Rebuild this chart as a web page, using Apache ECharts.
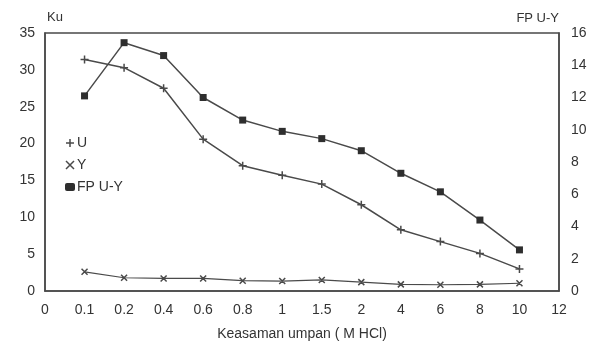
<!DOCTYPE html>
<html>
<head>
<meta charset="utf-8">
<script src="https://cdn.jsdelivr.net/npm/echarts@6/dist/echarts.min.js"></script>
<style>
  html, body { margin: 0; padding: 0; background: #fff; }
  #chart { width: 602px; height: 346px; }
</style>
</head>
<body>
<div id="chart"></div>
<script>
// x categories (evenly spaced on the axis)
const categories = ['0', '0.1', '0.2', '0.4', '0.6', '0.8', '1', '1.5', '2', '4', '6', '8', '10', '12'];

// left axis (Ku)
const seriesU = [null, 31.4, 30.3, 27.5, 20.6, 17.0, 15.7, 14.5, 11.7, 8.3, 6.7, 5.1, 3.0, null];
const seriesY = [null, 2.6, 1.8, 1.7, 1.7, 1.4, 1.35, 1.5, 1.2, 0.9, 0.85, 0.9, 1.05, null];
// right axis (FP U-Y)
const seriesFP = [null, 12.1, 15.4, 14.6, 12.0, 10.6, 9.9, 9.45, 8.7, 7.3, 6.15, 4.4, 2.55, null];

const ink = '#4a4a4a';
const txt = '#333';
const font = 'Liberation Sans';

const plusPath = 'path://M0,5 L10,5 M5,0 L5,10 Z';
const crossPath = 'path://M0,0 L10,10 M10,0 L0,10 Z';

const chart = echarts.init(document.getElementById('chart'));

const lineStyle = { color: ink, width: 1.5 };

chart.setOption({
  animation: false,
  backgroundColor: '#fff',
  textStyle: { fontFamily: font, color: txt },
  grid: { left: 45, right: 43, top: 33, bottom: 55, show: true, borderColor: ink, borderWidth: 1.5 },
  legend: {
    orient: 'vertical',
    left: 60,
    top: 131,
    itemGap: 8,
    itemWidth: 10,
    itemHeight: 8,
    textStyle: { fontFamily: font, fontSize: 14, color: txt, padding: [0, 0, 0, -3] },
    data: [
      { name: 'U', icon: plusPath, itemStyle: { color: 'transparent', borderColor: ink, borderWidth: 1.5 } },
      { name: 'Y', icon: crossPath, itemStyle: { color: 'transparent', borderColor: ink, borderWidth: 1.5 } },
      { name: 'FP U-Y', icon: 'roundRect' }
    ]
  },
  xAxis: {
    type: 'category',
    data: categories,
    boundaryGap: false,
    name: 'Keasaman umpan ( M HCl)',
    nameLocation: 'middle',
    nameGap: 36,
    nameTextStyle: { fontFamily: font, fontSize: 14, color: txt },
    axisLine: { lineStyle: { color: ink, width: 1.5 } },
    axisTick: { show: false },
    axisLabel: { fontFamily: font, fontSize: 14, color: txt, margin: 12 },
    splitLine: { show: false }
  },
  yAxis: [
    {
      type: 'value',
      min: 0, max: 35, interval: 5,
      name: 'Ku',
      nameGap: 9,
      nameTextStyle: { fontFamily: font, fontSize: 13, color: txt, align: 'left', padding: [0, 0, 0, 2] },
      axisLine: { show: true, lineStyle: { color: ink, width: 1.5 } },
      axisTick: { show: false },
      axisLabel: { fontFamily: font, fontSize: 14, color: txt, margin: 10 },
      splitLine: { show: false }
    },
    {
      type: 'value',
      min: 0, max: 16, interval: 2,
      name: 'FP U-Y',
      nameGap: 8,
      nameTextStyle: { fontFamily: font, fontSize: 13, color: txt, align: 'right' },
      axisLine: { show: true, lineStyle: { color: ink, width: 1.5 } },
      axisTick: { show: false },
      axisLabel: { fontFamily: font, fontSize: 14, color: txt, margin: 12 },
      splitLine: { show: false }
    }
  ],
  series: [
    {
      name: 'U', type: 'line', yAxisIndex: 0, data: seriesU,
      symbol: plusPath, symbolSize: 8,
      itemStyle: { color: 'transparent', borderColor: ink, borderWidth: 1.5 },
      lineStyle: lineStyle
    },
    {
      name: 'Y', type: 'line', yAxisIndex: 0, data: seriesY,
      symbol: crossPath, symbolSize: 6,
      itemStyle: { color: 'transparent', borderColor: ink, borderWidth: 1.5 },
      lineStyle: { color: ink, width: 1.2 }
    },
    {
      name: 'FP U-Y', type: 'line', yAxisIndex: 1, data: seriesFP,
      symbol: 'rect', symbolSize: 7,
      itemStyle: { color: '#2e2e2e' },
      lineStyle: lineStyle
    }
  ]
});
</script>
</body>
</html>
